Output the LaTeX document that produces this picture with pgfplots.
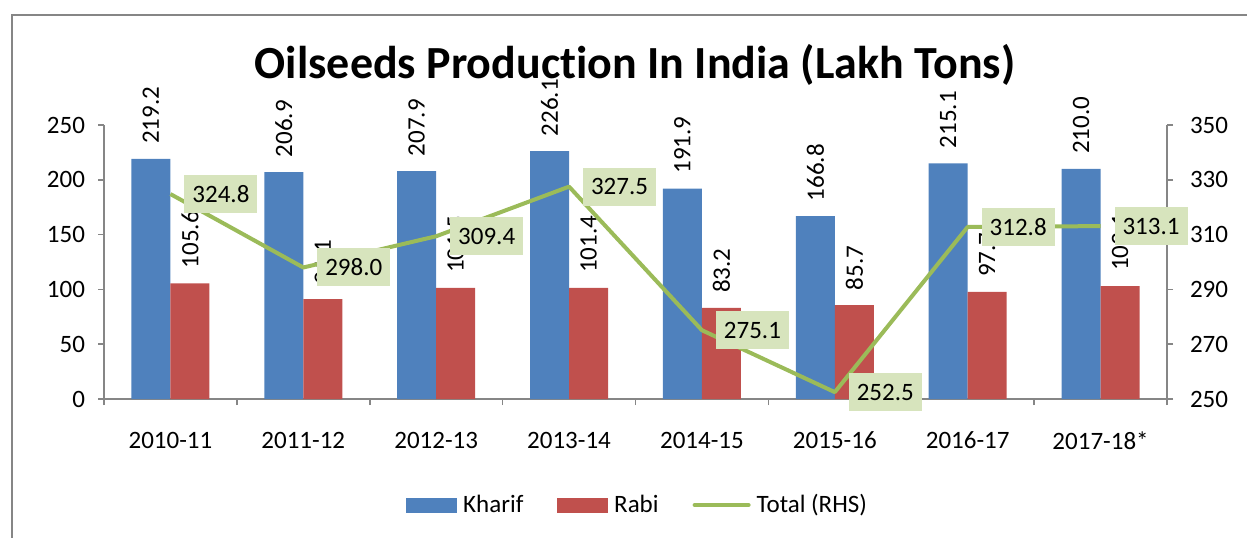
\documentclass[border=0pt]{standalone}
\usepackage{pgfplots}
\pgfplotsset{compat=1.18}
\usepackage{fontspec}
\setmainfont{Carlito}[Ligatures=NoCommon, Numbers=Monospaced]
\definecolor{kharif}{HTML}{4F81BD}
\definecolor{rabi}{HTML}{C0504D}
\definecolor{total}{HTML}{9BBB59}
\definecolor{lbl}{HTML}{D7E4BD}
\definecolor{axgray}{HTML}{868686}
\newcommand{\lblfont}{\fontsize{12.5}{15}\selectfont}
\pgfplotsset{
  common/.style={
    scale only axis, width=531.5pt, height=137pt,
    at={(52pt,69pt)}, anchor=south west,
    xmin=-0.5, xmax=7.5,
    axis line style={axgray, line width=0.75pt},
    tick style={axgray, line width=0.75pt},
    tick align=outside, major tick length=3pt, minor tick length=3pt,
    font=\lblfont,
    /pgf/number format/assume math mode=true,
  }
}
\begin{document}
\begin{tikzpicture}
\useasboundingbox (0,0) rectangle (623.5pt,268.5pt);
\draw[axgray, line width=0.8pt] (6pt,-5pt) rectangle (640pt,261pt);
\node[font=\fontsize{23}{27}\selectfont\bfseries] at (317.5pt,236pt) {Oilseeds Production In India (Lakh Tons)};

\begin{axis}[common,
  ymin=0, ymax=250, ytick={0,50,...,250},
  axis x line*=bottom, axis y line*=left,
  xtick={0,...,7},
  xticklabels={2010-11,2011-12,2012-13,2013-14,2014-15,2015-16,2016-17,2017-18*},
  major x tick style={draw=none},
  minor xtick={-0.5,0.5,...,7.5},
  xticklabel style={yshift=-10pt},
  yticklabel style={xshift=-3pt},
  ybar, bar width=19.5pt,
  nodes near coords={\pgfmathprintnumber[fixed,fixed zerofill,precision=1,assume math mode=true]{\pgfplotspointmeta}},
  every node near coord/.append style={rotate=90, anchor=west, xshift=4pt, text=black, font=\lblfont},
]
\addplot[fill=kharif, draw=none, bar shift=-9.75pt] coordinates {
(0,219.2) (1,206.9) (2,207.9) (3,226.1) (4,191.9) (5,166.8) (6,215.1) (7,210.0)};
\addplot[fill=rabi, draw=none, bar shift=9.75pt] coordinates {
(0,105.6) (1,91.1) (2,101.5) (3,101.4) (4,83.2) (5,85.7) (6,97.7) (7,103.1)};
\end{axis}

\begin{axis}[common,
  ymin=250, ymax=350, ytick={250,270,...,350},
  axis y line*=right, axis x line=none,
  yticklabel style={xshift=5pt},
  legend columns=3,
  legend style={at={(0.503,-0.387)}, anchor=center, draw=none, fill=none,
    font=\lblfont,
    /tikz/every odd column/.append style={column sep=1pt},
    /tikz/every even column/.append style={column sep=15pt}},
]
\addlegendimage{legend image code/.code={\fill[kharif] (0pt,-3.5pt) rectangle (25pt,3.5pt);}}
\addlegendentry{Kharif}
\addlegendimage{legend image code/.code={\fill[rabi] (0pt,-3.5pt) rectangle (25pt,3.5pt);}}
\addlegendentry{Rabi}
\addplot[total, line width=2pt, line join=round, mark=none,
  legend image code/.code={\draw[total,line width=2pt,line cap=round] (0pt,0pt) -- (27pt,0pt);},
  nodes near coords={\pgfmathprintnumber[fixed,fixed zerofill,precision=1,assume math mode=true]{\pgfplotspointmeta}},
  every node near coord/.append style={anchor=west, fill=lbl, xshift=6pt, inner xsep=4pt, minimum height=19pt, text=black, font=\lblfont},
] coordinates {
(0,324.8) (1,298.0) (2,309.4) (3,327.5) (4,275.1) (5,252.5) (6,312.8) (7,313.1)};
\addlegendentry{Total (RHS)}
\end{axis}
\end{tikzpicture}
\end{document}
